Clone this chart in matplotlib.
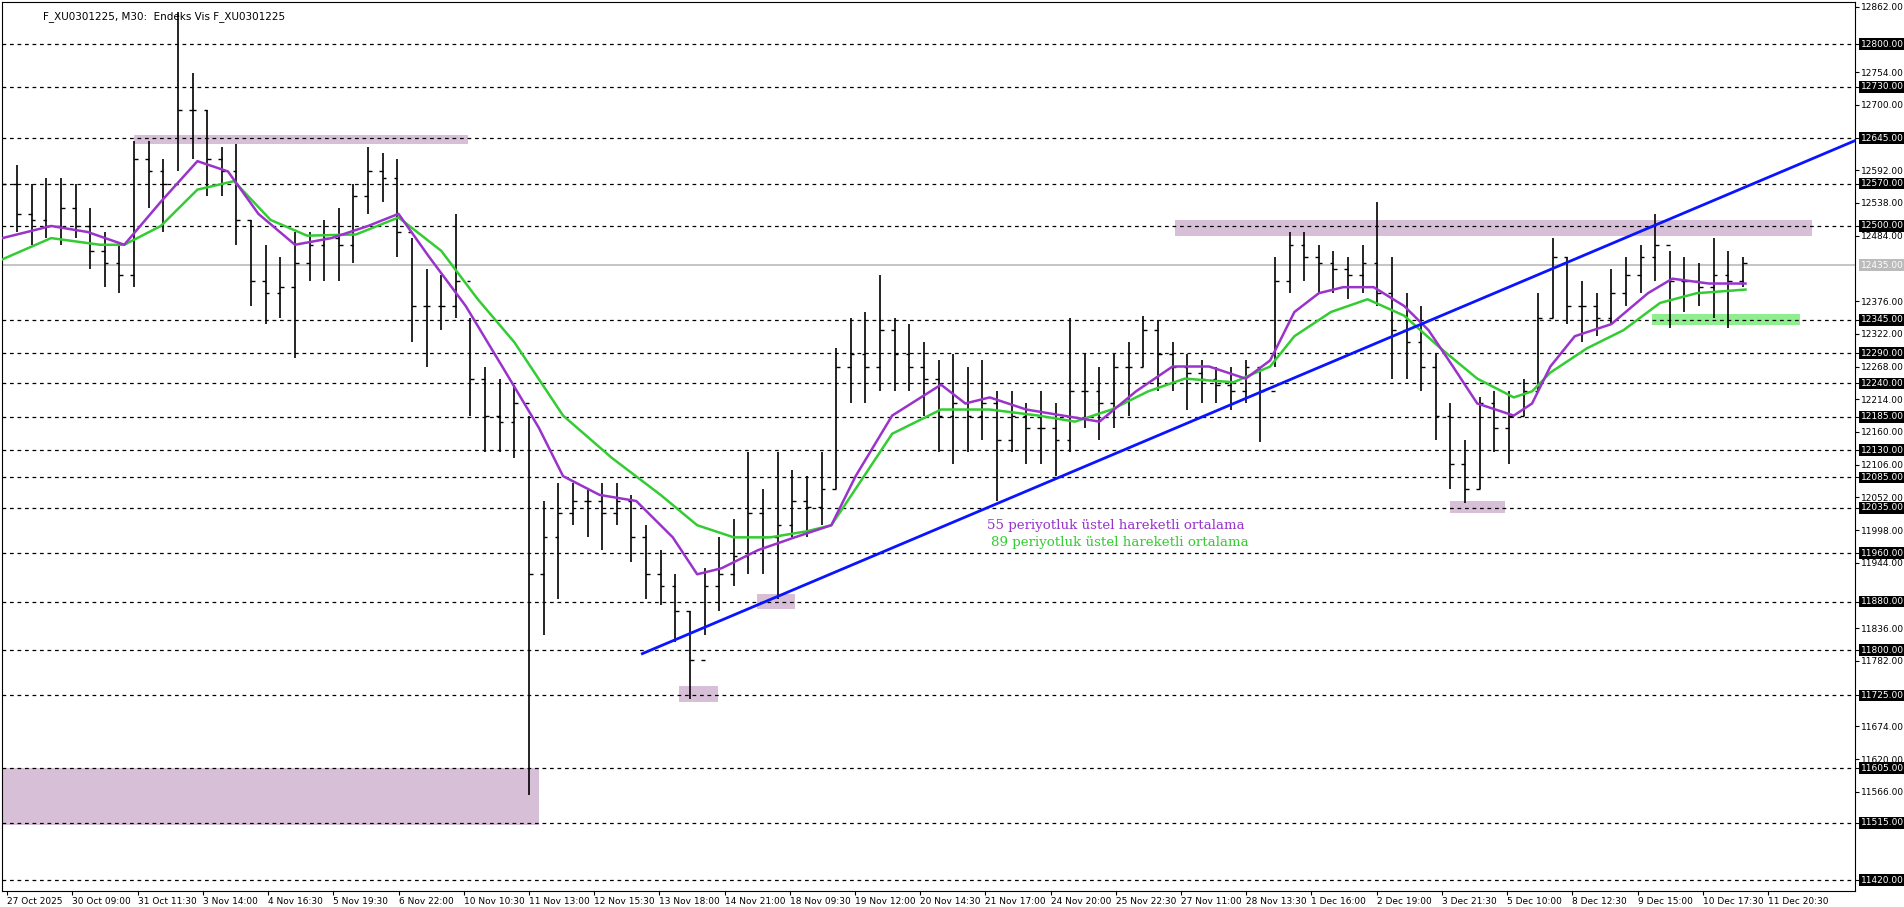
import matplotlib.pyplot as plt
from matplotlib.patches import Rectangle
import numpy as np

# OHLC bars (one bar per step, open = previous close)
high = [12631,12601,12570,12580,12580,12570,12530,12490,12469,12641,
        12641,12611,12853,12752,12691,12631,12635,12510,12469,12449,
        12490,12490,12510,12530,12570,12631,12621,12611,12480,12429,
        12419,12520,12348,12268,12248,12238,12187,12046,12076,12076,
        12066,12076,12076,12056,12006,11965,11925,11864,11935,11986,
        12016,12127,12066,12127,12097,12087,12127,12298,12348,12358,
        12419,12348,12338,12308,12278,12288,12268,12278,12227,12227,
        12207,12227,12207,12348,12288,12268,12288,12308,12352,12344,
        12308,12288,12278,12268,12268,12278,12268,12449,12490,12490,
        12469,12459,12449,12469,12540,12449,12389,12368,12288,12207,
        12147,12217,12227,12227,12248,12389,12480,12449,12409,12389,
        12429,12449,12469,12520,12459,12449,12439,12480,12459,12449]
low = [12530,12490,12469,12480,12469,12480,12429,12399,12389,12399,
       12530,12490,12590,12611,12550,12550,12469,12368,12338,12348,
       12282,12409,12409,12409,12439,12520,12540,12449,12308,12268,
       12328,12348,12187,12127,12127,12117,11561,11824,11885,12006,
       11986,11965,12006,11945,11885,11874,11814,11719,11824,11864,
       11905,11925,11925,11885,11986,11986,12006,12066,12207,12207,
       12227,12227,12227,12187,12127,12107,12127,12147,12046,12127,
       12107,12107,12087,12127,12167,12147,12167,12187,12268,12227,
       12227,12197,12207,12207,12197,12207,12143,12268,12389,12409,
       12389,12389,12379,12389,12368,12248,12248,12227,12147,12066,
       12042,12066,12127,12107,12187,12227,12348,12338,12308,12318,
       12338,12368,12389,12409,12332,12358,12368,12348,12332,12399]
close = [12570,12520,12510,12500,12530,12500,12459,12439,12419,12611,
         12590,12570,12691,12691,12611,12590,12510,12409,12389,12399,
         12439,12469,12480,12469,12550,12590,12580,12490,12368,12368,
         12368,12409,12248,12187,12177,12207,11925,11986,12026,12046,
         12046,12026,12046,11986,11925,11905,11864,11784,11905,11925,
         11955,12026,11986,12006,12046,12036,12066,12268,12288,12268,
         12328,12288,12268,12248,12187,12207,12187,12207,12147,12187,
         12167,12167,12147,12227,12227,12207,12268,12268,12328,12288,
         12268,12258,12248,12238,12227,12268,12227,12409,12469,12449,
         12439,12429,12419,12439,12389,12328,12308,12268,12187,12107,
         12066,12207,12167,12187,12227,12348,12449,12368,12368,12348,
         12389,12419,12449,12469,12409,12409,12399,12419,12409,12439]

# exponential moving averages
ema55_x = [0,3.33,5.83,8.33,10.83,13.33,15.42,17.5,20,22.5,25,27.08,29.17,31.67,34.17,
           36.67,38.33,40.83,43.33,45.83,47.5,49.17,51.67,54.17,56.67,58.33,60.83,64.17,
           65.83,67.5,70,72.5,75,77.5,80,82.5,85,86.67,88.33,90,91.67,93.75,95.83,97.5,
           99.17,100.83,103.33,104.58,105.83,107.5,110,112.5,114.17,116.67,119.17]
ema55_y = [12480,12500,12490,12469,12540,12607,12590,12520,12469,12480,12500,12520,12449,
           12368,12268,12167,12087,12056,12046,11986,11925,11935,11965,11986,12006,12087,
           12187,12238,12207,12217,12197,12187,12177,12227,12268,12268,12248,12278,12358,
           12389,12399,12399,12368,12328,12268,12207,12187,12207,12268,12318,12338,12389,
           12413,12405,12405]
ema89_x = [0,3.33,6.67,8.33,10.83,13.33,15.83,18.33,20.83,24.17,27.08,30,32.5,35,38.33,
           41.67,45,47.5,50,52.5,55,56.67,58.33,60.83,64.17,67.5,70.83,73.33,75.83,78.33,
           80.83,84.17,86.67,88.33,90.83,93.33,95.83,98.33,100.83,103.33,104.58,105.83,
           108.33,110.83,113.33,115.83,119.17]
ema89_y = [12445,12480,12469,12469,12500,12560,12574,12510,12484,12486,12514,12459,12379,
           12308,12187,12117,12056,12006,11986,11986,11996,12006,12066,12157,12197,12197,
           12187,12177,12197,12227,12248,12242,12268,12318,12358,12379,12352,12298,12248,
           12217,12227,12258,12298,12328,12373,12389,12395]

trend_x = [43.75, 126.67]
trend_y = [11794, 12641]

levels = [12800,12730,12645,12570,12500,12345,12290,12240,12185,12130,12085,12035,
          11960,11880,11800,11725,11605,11515,11420]
plain_ticks = [12862,12754,12700,12592,12538,12484,12376,12322,12268,12214,12160,12106,
               12052,11998,11944,11836,11782,11674,11620,11566]
last_price = 12435

# (x0, x1, y0, y1, colour)
zones = [(9, 31.8, 12635, 12650, '#d8bfd8'),
         (80.2, 123.7, 12483, 12510, '#d8bfd8'),
         (46.25, 48.9, 11715, 11740, '#d8bfd8'),
         (51.6, 54.2, 11868, 11892, '#d8bfd8'),
         (99, 102.7, 12026, 12046, '#d8bfd8'),
         (0, 36.7, 11511, 11606, '#d8bfd8'),
         (112.8, 122.9, 12336, 12354, '#90ee90')]

date_labels = ["27 Oct 2025","30 Oct 09:00","31 Oct 11:30","3 Nov 14:00","4 Nov 16:30",
               "5 Nov 19:30","6 Nov 22:00","10 Nov 10:30","11 Nov 13:00","12 Nov 15:30",
               "13 Nov 18:00","14 Nov 21:00","18 Nov 09:30","19 Nov 12:00","20 Nov 14:30",
               "21 Nov 17:00","24 Nov 20:00","25 Nov 22:30","27 Nov 11:00","28 Nov 13:30",
               "1 Dec 16:00","2 Dec 19:00","3 Dec 21:30","5 Dec 10:00","8 Dec 12:30",
               "9 Dec 15:00","10 Dec 17:30","11 Dec 20:30"]

fig = plt.figure(figsize=(19.04, 9.07), dpi=100)
ax = fig.add_axes([2/1560, 1-729/742, 1518/1560, 727/742])
ax.set_xlim(0, 126.67)
ax.set_ylim(11402, 12869)

for x0, x1, y0, y1, c in zones:
    ax.add_patch(Rectangle((x0, y0), x1-x0, y1-y0, color=c, lw=0, zorder=1))

for lv in levels:
    ax.axhline(lv, color='black', ls=(0, (3, 3)), lw=0.9, zorder=2)
ax.axhline(last_price, color='#bbbbbb', lw=1.2, zorder=2)

idx = np.arange(len(close))
opens = [close[0]] + close[:-1]
ax.vlines(idx, low, high, color='black', lw=1.2, zorder=3)
ax.hlines(opens, idx-0.25, idx, color='black', lw=1.0, zorder=3)
ax.hlines(close, idx, idx+0.25, color='black', lw=1.0, zorder=3)

ax.plot(ema89_x, ema89_y, color='#33cc33', lw=1.8, zorder=4)
ax.plot(ema55_x, ema55_y, color='#9933cc', lw=1.8, zorder=5)
ax.plot(trend_x, trend_y, color='#0a14ff', lw=2, zorder=6)

ax.text(67.3, 12005, "55 periyotluk üstel hareketli ortalama", color='#9933cc',
        fontsize=9.6, family='DejaVu Serif', va='center')
ax.text(67.6, 11977, "89 periyotluk üstel hareketli ortalama", color='#33cc33',
        fontsize=9.6, family='DejaVu Serif', va='center')

ax.text(0.022, 0.99, "F_XU0301225, M30:  Endeks Vis F_XU0301225", transform=ax.transAxes,
        fontsize=7.5, va='top', ha='left')

# right price axis
ax.yaxis.tick_right()
ax.set_yticks(plain_ticks + levels)
ax.set_yticklabels(["%.2f" % v for v in plain_ticks] + [""] * len(levels), fontsize=6.5)
ax.tick_params(axis='y', direction='out', length=3, pad=1.5)
for lv in levels:
    ax.text(1.003, lv, "%.2f" % lv, transform=ax.get_yaxis_transform(), fontsize=6.5,
            color='white', va='center', ha='left',
            bbox=dict(facecolor='black', edgecolor='none', pad=1.0))
ax.text(1.003, last_price, "%.2f" % last_price, transform=ax.get_yaxis_transform(),
        fontsize=6.5, color='white', va='center', ha='left',
        bbox=dict(facecolor='#bbbbbb', edgecolor='none', pad=1.0))

# time axis
xt = [0.33 + i*53.5/12 for i in range(len(date_labels))]
ax.set_xticks(xt)
ax.set_xticklabels(date_labels, fontsize=6.5, ha='left')
ax.tick_params(axis='x', direction='out', length=3, pad=1.5)

fig.savefig("out.png", dpi=100)
